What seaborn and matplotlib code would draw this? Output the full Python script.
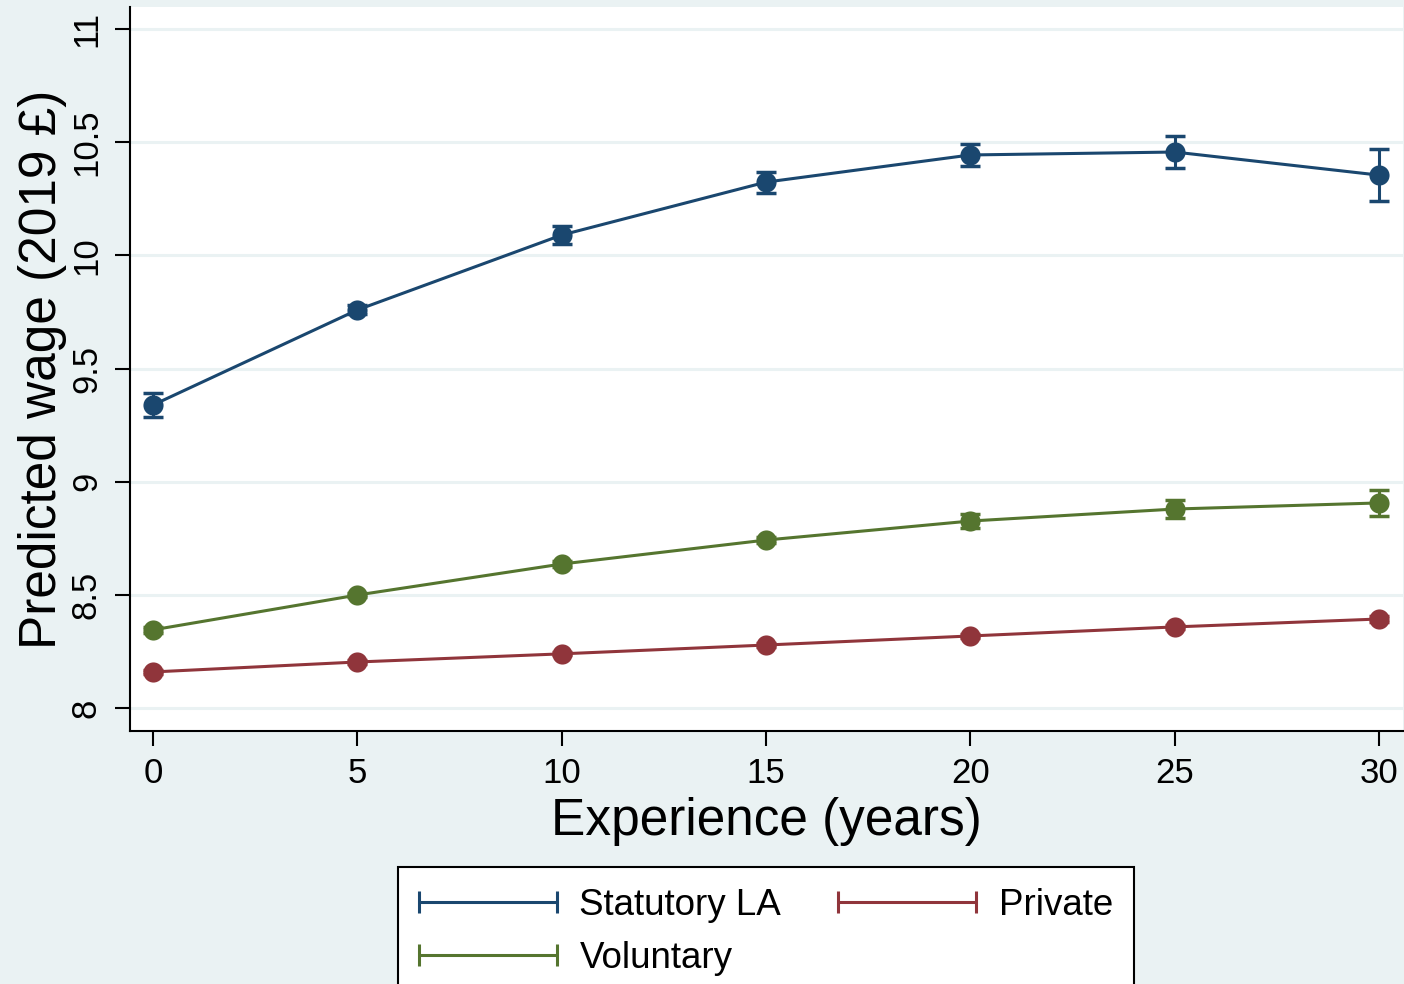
import matplotlib
matplotlib.use("Agg")
import matplotlib.pyplot as plt
import seaborn as sns
import pandas as pd
from matplotlib.lines import Line2D
from matplotlib.legend_handler import HandlerLine2D

experience = [0, 5, 10, 15, 20, 25, 30]
statutory = [9.339, 9.759, 10.090, 10.324, 10.444, 10.457, 10.355]
statutory_err = [0.053, 0.02, 0.04, 0.046, 0.05, 0.07, 0.115]
voluntary = [8.345, 8.499, 8.636, 8.742, 8.826, 8.879, 8.906]
voluntary_err = [0.012, 0.01, 0.012, 0.015, 0.03, 0.04, 0.057]
private = [8.159, 8.203, 8.239, 8.278, 8.318, 8.358, 8.393]
private_err = [0.008, 0.007, 0.007, 0.008, 0.009, 0.01, 0.012]
sectors = ["Statutory LA", "Voluntary", "Private"]
y_ticks = [8, 8.5, 9, 9.5, 10, 10.5, 11]
y_ticklabels = ["8", "8.5", "9", "9.5", "10", "10.5", "11"]
x_ticks = [0, 5, 10, 15, 20, 25, 30]

colors = {"Statutory LA": "#1a476f", "Voluntary": "#55752f", "Private": "#90353b"}
bg = "#eaf2f3"

rows = []
for name, vals, errs in [("Statutory LA", statutory, statutory_err),
                         ("Voluntary", voluntary, voluntary_err),
                         ("Private", private, private_err)]:
    for x, v, e in zip(experience, vals, errs):
        rows.append({"Experience": x, "Wage": v, "Err": e, "Sector": name})
df = pd.DataFrame(rows)

sns.set_theme(style="white")
plt.rcParams["font.family"] = ["Liberation Sans", "DejaVu Sans"]
plt.rcParams["text.color"] = "black"
plt.rcParams["axes.labelcolor"] = "black"
plt.rcParams["xtick.color"] = "black"
plt.rcParams["ytick.color"] = "black"

fig = plt.figure(figsize=(14.04, 9.84), dpi=100, facecolor=bg)
ax = fig.add_axes([130/1404, 1-731/984, (1403-130)/1404, (731-7)/984])
ax.set_facecolor("white")

for s in sectors:
    d = df[df.Sector == s]
    ax.errorbar(d.Experience, d.Wage, yerr=d.Err, fmt="none", ecolor=colors[s],
                elinewidth=2.2, capsize=7, capthick=2.5, zorder=3)

sns.lineplot(data=df, x="Experience", y="Wage", hue="Sector", hue_order=sectors,
             palette=colors, marker="o", markersize=14.5, markeredgewidth=0,
             linewidth=2.2, ax=ax, legend=False, zorder=4)

ax.set_xlim(-0.563, 30.59)
ax.set_ylim(7.898, 11.098)
ax.set_yticks(y_ticks)
ax.set_yticklabels(y_ticklabels, rotation=90, va="center")
ax.set_xticks(x_ticks)
ax.tick_params(axis="both", labelsize=25, length=10.5, width=1.5,
               direction="out", left=True, bottom=True)
ax.tick_params(axis="x", pad=8)
ax.tick_params(axis="y", pad=9)
ax.yaxis.grid(True, color=bg, linewidth=2.2)
ax.xaxis.grid(False)
ax.set_axisbelow(True)
for sp in ["top", "right"]:
    ax.spines[sp].set_visible(False)
for sp in ["left", "bottom"]:
    ax.spines[sp].set_color("black")
    ax.spines[sp].set_linewidth(1.5)

ax.set_xlabel("Experience (years)", fontsize=37, labelpad=5)
ax.set_ylabel("Predicted wage (2019 £)", fontsize=37, labelpad=2)

handles = [Line2D([], [], color=colors[s], linewidth=2.2, marker="|",
                  markersize=16, markeredgewidth=2.2) for s in sectors]
leg = fig.legend(handles, sectors, ncol=2, loc="upper center",
                 bbox_to_anchor=(766/1404, 1-867/984), fontsize=26.5,
                 numpoints=2, frameon=True, fancybox=False, handlelength=3.75,
                 handletextpad=0.62, columnspacing=1.55, labelspacing=0.5,
                 borderpad=0.56, borderaxespad=0, framealpha=1,
                 handler_map={Line2D: HandlerLine2D(marker_pad=0)})
leg.get_frame().set_edgecolor("black")
leg.get_frame().set_linewidth(1.5)
leg.get_frame().set_facecolor("white")

fig.savefig("out.png", dpi=100, facecolor=bg)
